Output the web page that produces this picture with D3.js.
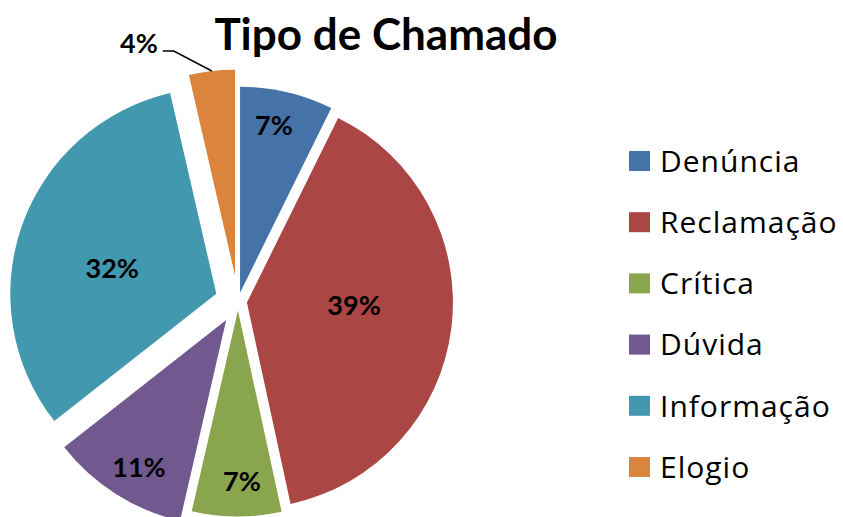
<!DOCTYPE html>
<html>
<head>
<meta charset="utf-8">
<script src="https://cdn.jsdelivr.net/npm/d3@7"></script>
<style>
  body { margin: 0; background: #fff; }
  text { font-family: Lato, "Open Sans", sans-serif; font-variant-ligatures: none; }
</style>
</head>
<body>
<script>
var categories = ["Denúncia", "Reclamação", "Crítica", "Dúvida", "Informação", "Elogio"];
// shares in % (labels show them rounded)
var values = [7.3, 39.3, 7.0, 10.8, 32.0, 3.6];
var colors = ["#4572A7", "#AA4643", "#89A54E", "#71588F", "#4198AF", "#DB843D"];
var title = "Tipo de Chamado";

var width = 843, height = 517;
var cx = 238, cy = 301.5, radius = 206;

// how far each slice is pulled out of the centre
var explode = { "Dúvida": 22, "Informação": 23, "Elogio": 26 };

var svg = d3.select("body").append("svg")
	.attr("width", width)
	.attr("height", height);

var total = d3.sum(values);
var pie = d3.pie().sort(null).value(function(d){ return d; });
var arcs = pie(values);
var arc = d3.arc().innerRadius(0).outerRadius(radius);

function offsetOf(d){
	var o = explode[categories[d.index]] || 9;
	var mid = (d.startAngle + d.endAngle) / 2;
	return [o * Math.sin(mid), -o * Math.cos(mid)];
}

var slices = svg.append("g")
	.attr("transform", "translate(" + cx + "," + cy + ")")
	.selectAll("g.slice")
	.data(arcs)
	.enter().append("g")
	.attr("class", "slice")
	.attr("transform", function(d){ var o = offsetOf(d); return "translate(" + o[0] + "," + o[1] + ")"; });

slices.append("path")
	.attr("d", arc)
	.attr("fill", function(d){ return colors[d.index]; });

// inside labels (all but the small Elogio slice)
// big slices get their label closer in and turned a bit back, like excel's best fit
slices.filter(function(d){ return categories[d.index] != "Elogio"; })
	.append("text")
	.attr("transform", function(d){
		var big = d.value / total > 0.2;
		var mid = (d.startAngle + d.endAngle) / 2 - (big ? 0.1 : 0.03);
		var k = big ? 0.52 : 0.83;
		return "translate(" + (k * radius * Math.sin(mid)) + "," + (-k * radius * Math.cos(mid)) + ")";
	})
	.attr("text-anchor", "middle")
	.attr("dy", "0.36em")
	.style("font-size", "27px")
	.style("font-weight", "bold")
	.text(function(d){ return Math.round(d.value / total * 100) + "%"; });

// outside label with leader line for Elogio
var el = arcs[categories.indexOf("Elogio")];
var eo = offsetOf(el);
var emid = (el.startAngle + el.endAngle) / 2;
var edge = [cx + eo[0] + radius * Math.sin(emid), cy + eo[1] - radius * Math.cos(emid)];
svg.append("polyline")
	.attr("points", [[edge[0], edge[1]], [edge[0] - 38, edge[1] - 20], [edge[0] - 49, edge[1] - 20]].join(" "))
	.attr("fill", "none")
	.attr("stroke", "#000")
	.attr("stroke-width", 1.5);
svg.append("text")
	.attr("x", edge[0] - 54)
	.attr("y", edge[1] - 18)
	.attr("text-anchor", "end")
	.style("font-size", "27px")
	.style("font-weight", "bold")
	.text(Math.round(el.value / total * 100) + "%");

svg.append("text")
	.attr("x", 386)
	.attr("y", 50)
	.attr("text-anchor", "middle")
	.style("font-size", "44px")
	.style("font-weight", "bold")
	.text(title);

var legend = svg.selectAll("g.legend")
	.data(categories)
	.enter().append("g")
	.attr("class", "legend")
	.attr("transform", function(d, i){ return "translate(629," + (151 + i * 61.2) + ")"; });

legend.append("rect")
	.attr("width", 21)
	.attr("height", 20)
	.attr("fill", function(d, i){ return colors[i]; });

legend.append("text")
	.attr("x", 31)
	.attr("y", 10)
	.attr("dy", "0.36em")
	.style("font-family", "'Open Sans', sans-serif")
	.style("font-size", "30px")
	.style("letter-spacing", "1px")
	.text(function(d){ return d; });
</script>
</body>
</html>
